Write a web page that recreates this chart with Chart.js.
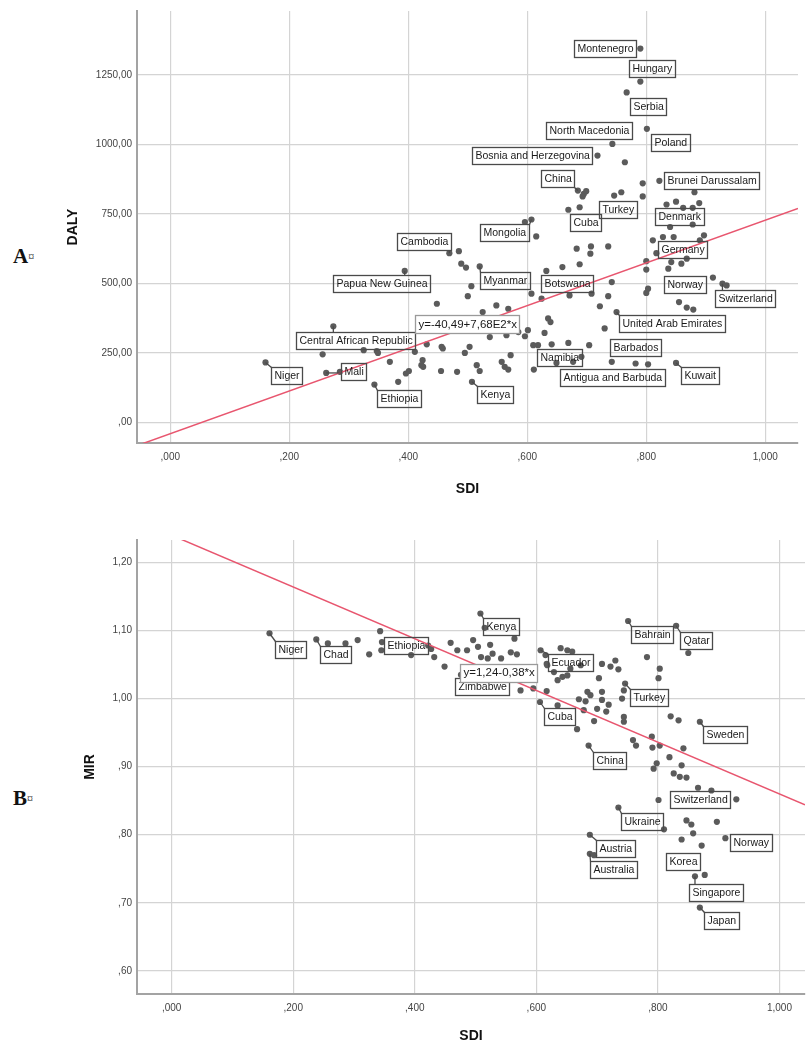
<!DOCTYPE html>
<html>
<head>
<meta charset="utf-8">
<script src="https://cdn.jsdelivr.net/npm/chart.js@4.4.1/dist/chart.umd.min.js"></script>
<style>
	body { margin: 0; background: #fff; width: 809px; height: 1045px; position: relative; overflow: hidden; }
	canvas { position: absolute; left: 0; }
	#chartA { top: 0; }
	#chartB { top: 500px; }
	.panel { position: absolute; left: 13px; font-family: "Liberation Serif", "Times New Roman", serif; font-weight: bold; font-size: 21px; color: #111; }
	.panel span { font-size: 12px; font-weight: normal; vertical-align: 2px; }
</style>
</head>
<body>
<div class="panel" style="top:244px">A<span>¤</span></div>
<div class="panel" style="top:786px">B<span>¤</span></div>
<canvas id="chartA" width="809" height="500"></canvas>
<canvas id="chartB" width="809" height="545"></canvas>
<script>
// tick values shown on the axes
const sdiTicks = [0, 0.2, 0.4, 0.6, 0.8, 1.0];
const dalyTicks = [0, 250, 500, 750, 1000, 1250];
const mirTicks = [0.6, 0.7, 0.8, 0.9, 1.0, 1.1, 1.2];

// ---- panel A : SDI vs DALY (labelled countries first) ----
const namesA = ['Montenegro', 'Hungary', 'Serbia', 'North Macedonia', 'Poland', 'Bosnia and Herzegovina', 'China', 'Turkey', 'Cuba',
	'Brunei Darussalam', 'Denmark', 'Mongolia', 'Germany', 'Cambodia', 'Papua New Guinea', 'Myanmar', 'Botswana', 'Norway', 'Switzerland',
	'United Arab Emirates', 'Central African Republic', 'Niger', 'Mali', 'Ethiopia', 'Kenya', 'Namibia', 'Barbados', 'Antigua and Barbuda', 'Kuwait'];
const sdiA = [
	0.790, 0.790, 0.767, 0.743, 0.801, 0.718, 0.685, 0.746, 0.669, 0.822, 0.834, 0.607, 0.811, 0.469, 0.394, 0.520, 0.632, 0.912, 0.928,
	0.750, 0.274, 0.160, 0.262, 0.343, 0.507, 0.618, 0.742, 0.677, 0.850,
	0.764, 0.794, 0.881, 0.695, 0.699, 0.693, 0.758, 0.794, 0.850, 0.862, 0.878, 0.889, 0.840, 0.878, 0.688, 0.596, 0.615, 0.828, 0.846, 0.897,
	0.890, 0.683, 0.707, 0.736, 0.706, 0.485, 0.489, 0.497, 0.506, 0.500, 0.448, 0.548, 0.568, 0.525, 0.659, 0.688, 0.742, 0.671, 0.708, 0.736,
	0.607, 0.624, 0.722, 0.635, 0.639, 0.601, 0.596, 0.629, 0.730, 0.704, 0.641, 0.669, 0.649, 0.691, 0.611, 0.782, 0.803, 0.935, 0.842, 0.837,
	0.859, 0.868, 0.800, 0.800, 0.803, 0.800, 0.855, 0.868, 0.879, 0.817, 0.256, 0.285, 0.325, 0.347, 0.349, 0.369, 0.383, 0.396, 0.401, 0.411,
	0.424, 0.422, 0.425, 0.431, 0.456, 0.455, 0.458, 0.482, 0.495, 0.503, 0.515, 0.520, 0.537, 0.565, 0.585, 0.557, 0.562, 0.568, 0.572, 0.610
];
const dalyA = [
	1345, 1226, 1187, 1002, 1056, 960, 834, 816, 765, 869, 784, 730, 655, 609, 545, 561, 545, 521, 499,
	397, 346, 216, 178, 136, 146, 278, 218, 218, 214,
	936, 860, 828, 822, 832, 813, 828, 813, 794, 772, 772, 789, 703, 712, 774, 721, 669, 667, 667, 673,
	655, 625, 633, 633, 607, 616, 571, 557, 490, 454, 427, 421, 409, 397, 559, 569, 505, 457, 463, 454,
	463, 445, 418, 374, 361, 332, 310, 322, 338, 278, 281, 286, 214, 236, 190, 212, 209, 493, 577, 553,
	571, 589, 580, 550, 481, 466, 433, 413, 406, 609, 245, 182, 260, 257, 250, 218, 146, 176, 185, 254,
	224, 206, 200, 281, 272, 185, 266, 182, 250, 272, 206, 185, 307, 314, 325, 218, 200, 190, 242, 278
];
const fitA = { a: -40.49, b: 768, text: 'y=-40,49+7,68E2*x' };

// ---- panel B : SDI vs MIR ----
const namesB = ['Niger', 'Chad', 'Ethiopia', 'Kenya', 'Zimbabwe', 'Ecuador', 'Bahrain', 'Qatar', 'Turkey', 'Cuba', 'Sweden', 'China',
	'Switzerland', 'Ukraine', 'Norway', 'Austria', 'Korea', 'Australia', 'Singapore', 'Japan'];
const sdiB = [
	0.161, 0.238, 0.345, 0.508, 0.476, 0.607, 0.751, 0.830, 0.746, 0.606, 0.869, 0.686, 0.929, 0.735, 0.911, 0.688, 0.872, 0.688, 0.861, 0.869,
	0.257, 0.286, 0.306, 0.325, 0.343, 0.346, 0.394, 0.422, 0.427, 0.432, 0.449, 0.459, 0.470, 0.486, 0.496, 0.504, 0.509, 0.520, 0.528, 0.515,
	0.524, 0.542, 0.564, 0.558, 0.568, 0.574, 0.595, 0.617, 0.617, 0.640, 0.651, 0.659, 0.618, 0.629, 0.635, 0.643, 0.651, 0.656, 0.673, 0.635,
	0.667, 0.670, 0.684, 0.689, 0.681, 0.678, 0.695, 0.700, 0.708, 0.708, 0.719, 0.715, 0.703, 0.708, 0.722, 0.730, 0.735, 0.744, 0.741, 0.744,
	0.744, 0.782, 0.803, 0.801, 0.850, 0.821, 0.834, 0.759, 0.764, 0.790, 0.791, 0.803, 0.842, 0.819, 0.793, 0.798, 0.839, 0.826, 0.836, 0.847,
	0.866, 0.888, 0.801, 0.847, 0.855, 0.858, 0.897, 0.810, 0.839, 0.695, 0.877, 0.615
];
const mirB = [
	1.096, 1.087, 1.071, 1.125, 1.035, 1.071, 1.114, 1.107, 1.022, 0.995, 0.966, 0.931, 0.852, 0.840, 0.795, 0.800, 0.784, 0.772, 0.739, 0.693,
	1.081, 1.081, 1.086, 1.065, 1.099, 1.083, 1.064, 1.078, 1.073, 1.061, 1.047, 1.082, 1.071, 1.071, 1.086, 1.076, 1.061, 1.059, 1.066, 1.104,
	1.079, 1.059, 1.088, 1.068, 1.065, 1.012, 1.015, 1.051, 1.011, 1.074, 1.071, 1.069, 1.049, 1.039, 1.027, 1.032, 1.034, 1.044, 1.049, 0.990,
	0.955, 0.999, 1.010, 1.005, 0.996, 0.983, 0.967, 0.985, 1.010, 0.998, 0.991, 0.981, 1.030, 1.051, 1.047, 1.056, 1.043, 1.012, 1.000, 0.973,
	0.966, 1.061, 1.044, 1.030, 1.067, 0.974, 0.968, 0.939, 0.931, 0.944, 0.928, 0.931, 0.927, 0.914, 0.897, 0.905, 0.902, 0.890, 0.885, 0.884,
	0.869, 0.865, 0.851, 0.821, 0.815, 0.802, 0.819, 0.808, 0.793, 0.770, 0.741, 1.064
];
const fitB = { a: 1.24, b: -0.38, text: 'y=1,24-0,38*x' };

// label box placement: [align of box vs point, dx, dy, leader line]
const placeA = {
	'Montenegro': ['r', -4, 0], 'Hungary': ['l', -11, -13], 'Serbia': ['l', 3, 14], 'North Macedonia': ['c', -23, -13],
	'Poland': ['l', 4, 14], 'Bosnia and Herzegovina': ['r', -5, 0], 'China': ['r', -4, -12, true], 'Turkey': ['c', 4, 14],
	'Cuba': ['l', 2, 13], 'Brunei Darussalam': ['l', 5, 0], 'Denmark': ['l', -12, 12], 'Mongolia': ['r', -2, 13, true],
	'Germany': ['l', 5, 9], 'Cambodia': ['r', 2, -12, true], 'Papua New Guinea': ['c', -23, 13, true], 'Myanmar': ['l', 0, 14, true],
	'Botswana': ['l', -5, 13], 'Norway': ['r', -7, 7], 'Switzerland': ['l', -7, 15, true], 'United Arab Emirates': ['l', 2, 11, true],
	'Central African Republic': ['c', 22, 14, true], 'Niger': ['l', 5, 13, true], 'Mali': ['l', 15, -1, true], 'Ethiopia': ['l', 3, 14, true],
	'Kenya': ['l', 5, 13, true], 'Namibia': ['l', -1, 12], 'Barbados': ['l', -2, -14], 'Antigua and Barbuda': ['l', -13, 16], 'Kuwait': ['l', 5, 13, true]
};
const placeB = {
	'Niger': ['l', 5, 16, true], 'Chad': ['l', 4, 15, true], 'Ethiopia': ['l', 3, -5], 'Kenya': ['l', 3, 13, true], 'Zimbabwe': ['l', -6, 12],
	'Ecuador': ['l', 7, 12, true], 'Bahrain': ['l', 3, 14, true], 'Qatar': ['l', 4, 15, true], 'Turkey': ['l', 5, 14, true], 'Cuba': ['l', 4, 15, true],
	'Sweden': ['l', 3, 13, true], 'China': ['l', 4, 15, true], 'Switzerland': ['r', -6, 0], 'Ukraine': ['l', 3, 14, true], 'Norway': ['l', 5, 4],
	'Austria': ['l', 6, 14, true], 'Korea': ['r', -2, 16], 'Australia': ['l', 0, 16, true], 'Singapore': ['l', -6, 16, true], 'Japan': ['l', 4, 13, true]
};

// SPSS style numbers: comma decimal, no leading zero
function spssNum(v, d) {
	let s = v.toFixed(d).replace('.', ',');
	if (s.startsWith('0,')) s = s.slice(1);
	if (s.startsWith('-0,')) s = '-' + s.slice(2);
	return s;
}

function makeChart(id, cfg) {
	const labelPlugin = {
		id: 'countryLabels',
		afterDatasetsDraw(chart) {
			const ctx = chart.ctx, xs = chart.scales.x, ys = chart.scales.y;
			ctx.save();
			ctx.font = '10.5px "Liberation Sans", Arial, sans-serif';
			ctx.textBaseline = 'middle';
			ctx.lineWidth = 1.3;
			ctx.strokeStyle = '#4a4a4a';
			cfg.names.forEach(function(name, i) {
				const px = xs.getPixelForValue(cfg.xs[i]);
				const py = ys.getPixelForValue(cfg.ys[i]);
				const p = cfg.place[name];
				const w = Math.round(ctx.measureText(name).width + 6), h = 17;
				let left = p[0] === 'r' ? px + p[1] - w : p[0] === 'c' ? px + p[1] - w / 2 : px + p[1];
				left = Math.round(left) + 0.5;
				const top = Math.round(py + p[2] - h / 2) + 0.5;
				if (p[3]) {
					const lx = Math.min(Math.max(px, left), left + w);
					const ly = Math.min(Math.max(py, top), top + h);
					ctx.beginPath();
					ctx.moveTo(px, py);
					ctx.lineTo(lx, ly);
					ctx.stroke();
				}
				ctx.strokeRect(left, top, w, h);
				ctx.fillStyle = '#1a1a1a';
				ctx.fillText(name, left + 3, top + h / 2 + 0.5);
			});
			// regression equation box
			ctx.font = '11.5px "Liberation Sans", Arial, sans-serif';
			const ex = Math.round(xs.getPixelForValue(cfg.eq.x)) + 0.5;
			const ey = ys.getPixelForValue(cfg.eq.y);
			const ew = Math.round(ctx.measureText(cfg.fit.text).width + 6);
			ctx.fillStyle = '#fff';
			ctx.fillRect(ex, Math.round(ey - 9) + 0.5, ew, 18);
			ctx.strokeStyle = '#9a9a9a';
			ctx.strokeRect(ex, Math.round(ey - 9) + 0.5, ew, 18);
			ctx.fillStyle = '#1a1a1a';
			ctx.fillText(cfg.fit.text, ex + 3, ey + 0.5);
			ctx.restore();
		}
	};

	const points = cfg.xs.map(function(v, i) { return { x: v, y: cfg.ys[i] }; });
	const fitLine = [cfg.xMin, cfg.xMax].map(function(v) { return { x: v, y: cfg.fit.a + cfg.fit.b * v }; });

	const gridStyle = { color: '#d4d4d4', lineWidth: 1.2, drawTicks: false };
	const borderStyle = { color: '#a3a3a3', width: 2 };
	const tickFont = { family: '"Liberation Sans", Arial, sans-serif', size: 10 };
	const titleFont = { family: '"Liberation Sans", Arial, sans-serif', size: 14, weight: 'bold' };

	return new Chart(document.getElementById(id), {
		type: 'scatter',
		data: {
			datasets: [
				{
					type: 'line',
					data: fitLine,
					borderColor: '#e8566f',
					borderWidth: 1.5,
					pointRadius: 0,
					fill: false
				},
				{
					data: points,
					backgroundColor: '#5b5b5b',
					borderColor: '#5b5b5b',
					borderWidth: 0,
					pointRadius: 3.1
				}
			]
		},
		options: {
			responsive: false,
			animation: false,
			events: [],
			layout: { padding: cfg.padding },
			plugins: { legend: { display: false }, tooltip: { enabled: false } },
			scales: {
				x: {
					type: 'linear',
					min: cfg.xMin,
					max: cfg.xMax,
					grid: gridStyle,
					border: borderStyle,
					afterBuildTicks: function(scale) { scale.ticks = sdiTicks.map(function(v) { return { value: v }; }); },
					ticks: {
						padding: 8,
						maxRotation: 0,
						autoSkip: false,
						color: '#444',
						font: tickFont,
						callback: function(v) { return spssNum(v, 3); }
					},
					title: { display: true, text: 'SDI', color: '#111', font: titleFont, padding: { top: 0, bottom: cfg.xTitlePad } },
					afterFit: function(scale) { scale.height = cfg.xAxisHeight; }
				},
				y: {
					type: 'linear',
					min: cfg.yMin,
					max: cfg.yMax,
					grid: gridStyle,
					border: borderStyle,
					afterBuildTicks: function(scale) { scale.ticks = cfg.yTicks.map(function(v) { return { value: v }; }); },
					ticks: {
						padding: 5,
						autoSkip: false,
						color: '#444',
						font: tickFont,
						callback: function(v) { return spssNum(v, 2); }
					},
					title: { display: true, text: cfg.yTitle, color: '#111', font: titleFont, padding: { top: cfg.yTitlePad, bottom: 0 } },
					afterFit: function(scale) { scale.width = 137; }
				}
			}
		},
		plugins: [labelPlugin]
	});
}

makeChart('chartA', {
	names: namesA, xs: sdiA, ys: dalyA, place: placeA, fit: fitA, yTicks: dalyTicks,
	eq: { x: 0.411, y: 353 },
	xMin: -0.056, xMax: 1.055, yMin: -74, yMax: 1480,
	yTitle: 'DALY', yTitlePad: 65, xTitlePad: 2, xAxisHeight: 57,
	padding: { top: 10, right: 11, left: 0, bottom: 0 }
});

makeChart('chartB', {
	names: namesB, xs: sdiB, ys: mirB, place: placeB, fit: fitB, yTicks: mirTicks,
	eq: { x: 0.474, y: 1.038 },
	xMin: -0.057, xMax: 1.042, yMin: 0.566, yMax: 1.233,
	yTitle: 'MIR', yTitlePad: 82, xTitlePad: 0, xAxisHeight: 51,
	padding: { top: 40, right: 0, left: 0, bottom: 0 }
});
</script>
</body>
</html>
